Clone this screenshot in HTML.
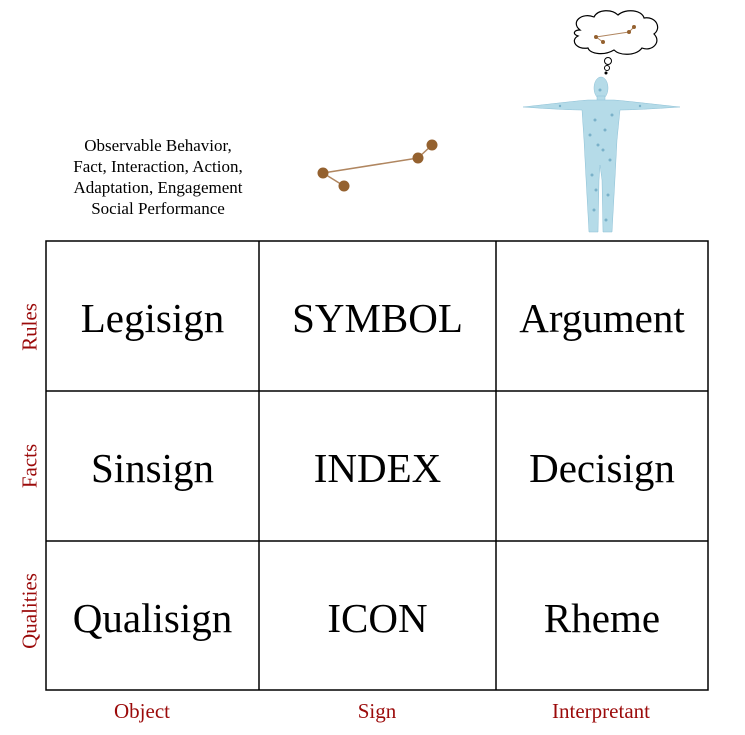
<!DOCTYPE html>
<html><head><meta charset="utf-8"><style>
html,body{margin:0;padding:0;background:#fff;}
body{width:745px;height:735px;position:relative;overflow:hidden;font-family:"Liberation Serif",serif;}
.c{position:absolute;display:flex;align-items:center;justify-content:center;font-size:41px;color:#000;padding-top:4px;box-sizing:border-box;}
.lab{position:absolute;color:#9b0a0a;font-size:21px;white-space:nowrap;}
.v{transform:translate(-50%,-50%) rotate(-90deg);}
.h{transform:translateX(-50%);}
.txt{position:absolute;left:38px;top:135px;width:240px;text-align:center;font-family:"Liberation Serif",serif;font-size:17px;line-height:21px;}
</style></head><body>
<svg width="745" height="735" style="position:absolute;left:0;top:0">
 <g stroke="#000" stroke-width="1.5" fill="none">
  <rect x="46" y="241" width="662" height="449"/>
  <line x1="259" y1="241" x2="259" y2="690"/>
  <line x1="496" y1="241" x2="496" y2="690"/>
  <line x1="46" y1="391" x2="708" y2="391"/>
  <line x1="46" y1="541" x2="708" y2="541"/>
 </g>
 <g stroke="#b08660" stroke-width="1.5"><line x1="323" y1="173" x2="344" y2="186"/><line x1="323" y1="173" x2="418" y2="158"/><line x1="418" y1="158" x2="432" y2="145"/></g>
 <g fill="#94612f"><circle cx="323" cy="173" r="5.5"/><circle cx="344" cy="186" r="5.5"/><circle cx="418" cy="158" r="5.5"/><circle cx="432" cy="145" r="5.5"/></g>
 <path d="M580,30 C570,22 582,12 594,17 C598,9 612,9 618,15 C626,8 642,10 644,18 C656,16 662,28 654,34 C662,42 652,52 642,48 C636,56 620,56 614,50 C604,56 590,54 588,48 C576,50 570,40 578,36 C572,34 574,30 580,30 Z" fill="#fff" stroke="#000" stroke-width="1.2"/>
 <g stroke="#b08660" stroke-width="1"><line x1="596" y1="37" x2="603" y2="42"/><line x1="596" y1="37" x2="629" y2="32"/><line x1="629" y1="32" x2="634" y2="27"/></g>
 <g fill="#94612f"><circle cx="596" cy="37" r="2"/><circle cx="603" cy="42" r="2"/><circle cx="629" cy="32" r="2"/><circle cx="634" cy="27" r="2"/></g>
 <g fill="#fff" stroke="#000" stroke-width="1"><circle cx="608" cy="61" r="3.5"/><circle cx="607" cy="68" r="2.5"/></g>
 <circle cx="606" cy="73" r="1.5" fill="#000"/>
 <g fill="#b5dbe8" stroke="#8cc0d6" stroke-width="0.5">
  <ellipse cx="601" cy="88" rx="7" ry="11"/>
  <rect x="597" y="96" width="8" height="8"/>
  <path d="M523,107 C550,104 575,101 588,100 L614,100 C627,101 652,104 680,107 C652,109 630,110 620,110 L617,140 L615,178 L612,232 L603,232 L602,180 L600,165 L599,180 L598,232 L589,232 L586,178 L584,140 L582,110 C572,110 550,109 523,107 Z"/>
 </g>
 <g fill="#4a8fb0" opacity="0.55">
  <circle cx="595" cy="120" r="1.5"/><circle cx="605" cy="130" r="1.5"/><circle cx="598" cy="145" r="1.5"/><circle cx="610" cy="160" r="1.5"/><circle cx="592" cy="175" r="1.5"/><circle cx="608" cy="195" r="1.5"/><circle cx="594" cy="210" r="1.5"/><circle cx="606" cy="220" r="1.5"/><circle cx="600" cy="90" r="1.5"/><circle cx="590" cy="135" r="1.5"/><circle cx="612" cy="115" r="1.5"/><circle cx="603" cy="150" r="1.5"/><circle cx="596" cy="190" r="1.5"/><circle cx="560" cy="106" r="1.2"/><circle cx="640" cy="106" r="1.2"/>
 </g>
</svg>
<div class="txt">Observable Behavior,<br>Fact, Interaction, Action,<br>Adaptation, Engagement<br>Social Performance</div>
<div class="c" style="left:46px;top:241px;width:213px;height:150px">Legisign</div>
<div class="c" style="left:259px;top:241px;width:237px;height:150px">SYMBOL</div>
<div class="c" style="left:496px;top:241px;width:212px;height:150px">Argument</div>
<div class="c" style="left:46px;top:391px;width:213px;height:150px">Sinsign</div>
<div class="c" style="left:259px;top:391px;width:237px;height:150px">INDEX</div>
<div class="c" style="left:496px;top:391px;width:212px;height:150px">Decisign</div>
<div class="c" style="left:46px;top:541px;width:213px;height:150px">Qualisign</div>
<div class="c" style="left:259px;top:541px;width:237px;height:150px">ICON</div>
<div class="c" style="left:496px;top:541px;width:212px;height:150px">Rheme</div>
<div class="lab v" style="left:30px;top:327px">Rules</div>
<div class="lab v" style="left:30px;top:466px">Facts</div>
<div class="lab v" style="left:30px;top:611px">Qualities</div>
<div class="lab h" style="left:142px;top:699px">Object</div>
<div class="lab h" style="left:377px;top:699px">Sign</div>
<div class="lab h" style="left:601px;top:699px">Interpretant</div>
</body></html>
